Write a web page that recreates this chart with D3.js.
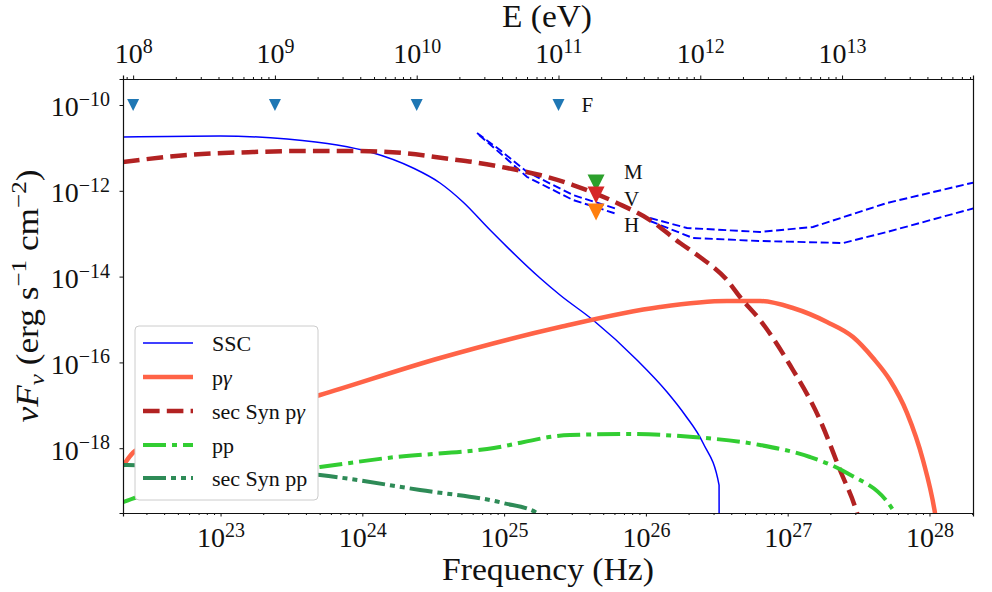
<!DOCTYPE html>
<html><head><meta charset="utf-8">
<script src="https://cdn.jsdelivr.net/npm/d3@7"></script>
<style>
body{margin:0;background:#fff}
svg{display:block}
</style>
</head><body>
<svg id="chart" width="992" height="592"></svg>
<script>
// ---------------- data (log10 ν [Hz], log10 νFν [erg s^-1 cm^-2]) ----------------
const H_EV = 4.135667e-15; // Planck constant, eV s
const xTickExps = [23, 24, 25, 26, 27, 28];
const topTickExps = [8, 9, 10, 11, 12, 13];
const yTickExps = [-10, -12, -14, -16, -18];

const sscPts = [[22.312,-10.746],[22.997,-10.723],[23.469,-10.793],[23.822,-10.932],[24.054,-11.096],
  [24.358,-11.469],[24.548,-11.818],[24.710,-12.261],[24.901,-12.914],[25.253,-14.033],[25.394,-14.429],
  [25.627,-15.012],[25.937,-15.944],[26.149,-16.690],[26.276,-17.226],[26.403,-17.879],[26.516,-18.858],
  [26.517,-20.5]];
const pgPts = [[22.312,-18.415],[22.397,-18.065],[22.855,-17.576],[23.702,-16.760],[24.548,-15.897],
  [25.394,-15.175],[26.099,-14.709],[26.572,-14.569],[26.805,-14.569],[27.037,-14.732],[27.277,-15.058],
  [27.461,-15.408],[27.602,-15.897],[27.721,-16.410],[27.842,-17.180],[27.954,-18.275],[28.039,-19.510],
  [28.07,-20.2]];
const secSynPgPts = [[22.312,-11.329],[22.764,-11.166],[23.229,-11.096],[23.582,-11.072],[23.935,-11.072],
  [24.287,-11.119],[24.619,-11.259],[24.781,-11.329],[25.021,-11.469],[25.253,-11.632],[25.486,-11.865],
  [25.796,-12.284],[26.029,-12.681],[26.241,-13.217],[26.381,-13.543],[26.572,-14.079],[26.664,-14.476],
  [26.805,-15.012],[27.016,-16.061],[27.228,-17.343],[27.369,-18.508],[27.489,-19.510],[27.53,-20.0]];
const ppPts = [[22.312,-19.254],[22.411,-19.138],[23.067,-18.695],[23.702,-18.438],[24.174,-18.228],
  [24.880,-18.019],[25.465,-17.692],[25.867,-17.669],[26.332,-17.739],[26.805,-17.925],[27.157,-18.205],
  [27.418,-18.578],[27.743,-19.441],[27.80,-19.80]];
const secSynPpPts = [[22.312,-18.392],[23.067,-18.462],[23.702,-18.625],[24.407,-18.974],[24.992,-19.277],
  [25.232,-19.510],[25.31,-19.75]];

// instrument sensitivity curves (two curves, each in two pieces)
const sens1a = [[24.809,-10.653],[24.971,-11.049],[25.162,-11.562],[25.486,-12.098],[25.796,-12.424]];
const sens2a = [[24.823,-10.699],[24.971,-11.119],[25.162,-11.678],[25.486,-12.214],[25.796,-12.541]];
const sens1b = [[26.029,-12.634],[26.290,-12.867],[26.805,-12.960],[27.178,-12.844],[27.700,-12.284],[28.32,-11.80]];
const sens2b = [[26.029,-12.704],[26.332,-13.100],[26.805,-13.170],[27.390,-13.217],[27.700,-12.960],[28.32,-12.40]];

// upper limits
const fEnergies = [1e8, 1e9, 1e10, 1e11]; // eV
const fFlux = 1e-10;
const mvhLabels = ["M", "V", "H"];
const mvhEnergy = 1.84e11; // eV
const mvhFlux = [1.52e-12, 7.98e-13, 3.2e-13];
const mvhColors = ["#2ca02c", "#d62728", "#ff7f0e"];

const seriesNames = ["SSC", "pγ", "sec Syn pγ", "pp", "sec Syn pp"];

// ---------------- chart ----------------
const FONT = "'Liberation Serif', 'Times New Roman', 'DejaVu Serif', serif";
const TXT = "#111111";
const svg = d3.select("#chart").attr("font-family", FONT).style("font-family", FONT);
const m = {l: 123, r: 973, t: 79, b: 513};
const x = d3.scaleLog().domain([Math.pow(10, 22.312), Math.pow(10, 28.307)]).range([m.l, m.r]);
const xE = d3.scaleLog().domain(x.domain().map(d => d * H_EV)).range([m.l, m.r]);
const y = d3.scaleLog().domain([Math.pow(10, -19.51), Math.pow(10, -9.394)]).range([m.b, m.t]);

svg.append("defs").append("clipPath").attr("id", "clip")
  .append("rect").attr("x", m.l).attr("y", m.t).attr("width", m.r - m.l).attr("height", m.b - m.t);

const plot = svg.append("g").attr("clip-path", "url(#clip)");
const toXY = p => [x(Math.pow(10, p[0])), y(Math.pow(10, p[1]))];
const lineSmooth = d3.line().x(p => toXY(p)[0]).y(p => toXY(p)[1]).curve(d3.curveMonotoneX);
const lineLin = d3.line().x(p => toXY(p)[0]).y(p => toXY(p)[1]);

// sensitivity curves
[sens1a, sens2a, sens1b, sens2b].forEach(s => {
  plot.append("path").attr("d", lineLin(s)).attr("fill", "none")
    .attr("stroke", "#0000ff").attr("stroke-width", 1.9).attr("stroke-dasharray", "8,3.6");
});

const styles = [
  {data: sscPts, color: "#0000ff", w: 1.5, dash: null, curve: lineSmooth},
  {data: pgPts, color: "#ff6347", w: 4.5, dash: null, curve: lineSmooth},
  {data: secSynPgPts, color: "#b22222", w: 4.5, dash: "16.6,7.2", curve: lineSmooth},
  {data: ppPts, color: "#32cd32", w: 4, dash: "23,6,5,6", curve: lineSmooth},
  {data: secSynPpPts, color: "#2e8b57", w: 4, dash: "23,5,5,5,5,5", curve: lineSmooth}
];
styles.forEach(s => {
  plot.append("path").attr("d", s.curve(s.data)).attr("fill", "none")
    .attr("stroke", s.color).attr("stroke-width", s.w)
    .attr("stroke-dasharray", s.dash);
});

function txt(parent) {
  return parent.append("text").attr("font-family", FONT).style("font-family", FONT).attr("fill", TXT);
}

// markers
const tri = sz => `M${-sz/2},${-sz/2}L${sz/2},${-sz/2}L0,${sz/2}Z`;
fEnergies.forEach(e => {
  svg.append("path").attr("d", tri(12)).attr("fill", "#1f77b4")
    .attr("transform", `translate(${xE(e)},${y(fFlux)})`);
});
txt(svg).attr("x", xE(fEnergies[3]) + 23).attr("y", y(fFlux) + 7)
  .attr("font-size", 21).text("F");
mvhFlux.forEach((f, i) => {
  svg.append("path").attr("d", tri(17)).attr("fill", mvhColors[i])
    .attr("transform", `translate(${xE(mvhEnergy)},${y(f)})`);
});
const lblOff = [-11, 4, 13];
mvhLabels.forEach((l, i) => {
  txt(svg).attr("x", xE(mvhEnergy) + 28).attr("y", y(mvhFlux[i]) + lblOff[i] + 7)
    .attr("font-size", 21).text(l);
});

// axes
function supLabel(sel, exp, sz) {
  sel.text(null);
  sel.append("tspan").text("10");
  sel.append("tspan").attr("dy", -10.5).attr("font-size", sz).text(String(exp).replace("-", "\u2212"));
}
function minorVals(scale, lo, hi) {
  const out = [];
  for (let e = lo; e <= hi; e++) for (let k = 2; k <= 9; k++) {
    const v = k * Math.pow(10, e);
    const [a, b] = scale.domain();
    if (v > a && v < b) out.push(v);
  }
  return out;
}
function styleTicks(g) {
  g.attr("font-family", FONT).style("font-family", FONT);
  g.selectAll(".tick text").attr("font-family", FONT).style("font-family", FONT)
    .attr("fill", TXT).attr("font-size", 28);
}
// bottom minor
svg.append("g").attr("transform", `translate(0,${m.b})`)
  .call(d3.axisBottom(x).tickValues(minorVals(x, 22, 28)).tickSize(2).tickFormat(""))
  .call(g => g.select(".domain").remove());
const gb = svg.append("g").attr("transform", `translate(0,${m.b})`)
  .call(d3.axisBottom(x).tickValues(xTickExps.map(e => Math.pow(10, e))).tickSize(3.5));
styleTicks(gb);
gb.selectAll(".tick text").attr("y", 34).attr("dy", null)
  .each(function(d, i) { supLabel(d3.select(this), xTickExps[i], 20); });
// top minor
svg.append("g").attr("transform", `translate(0,${m.t})`)
  .call(d3.axisTop(xE).tickValues(minorVals(xE, 7, 13)).tickSize(2).tickFormat(""))
  .call(g => g.select(".domain").remove());
const gt = svg.append("g").attr("transform", `translate(0,${m.t})`)
  .call(d3.axisTop(xE).tickValues(topTickExps.map(e => Math.pow(10, e))).tickSize(3.5));
styleTicks(gt);
gt.selectAll(".tick text").attr("y", -16).attr("dy", null)
  .each(function(d, i) { supLabel(d3.select(this), topTickExps[i], 20); });
// left
const gl = svg.append("g").attr("transform", `translate(${m.l},0)`)
  .call(d3.axisLeft(y).tickValues(yTickExps.map(e => Math.pow(10, e))).tickSize(3.5));
styleTicks(gl);
gl.selectAll(".tick text").attr("x", -13).attr("dy", "0.39em")
  .each(function(d, i) { supLabel(d3.select(this), yTickExps[i], 20); });
// right spine
svg.append("g").attr("transform", `translate(${m.r},0)`)
  .call(d3.axisRight(y).tickValues([]).tickSizeOuter(0));
svg.selectAll(".tick line").attr("stroke", "#111");
svg.selectAll(".domain").attr("stroke", "#111").attr("stroke-width", 1.2);

// axis titles
txt(svg).attr("x", (m.l + m.r) / 2).attr("y", 580).attr("text-anchor", "middle")
  .attr("font-size", 31).attr("textLength", 212).attr("lengthAdjust", "spacingAndGlyphs").text("Frequency (Hz)");
txt(svg).attr("x", 547).attr("y", 27).attr("text-anchor", "middle")
  .attr("font-size", 31).attr("textLength", 90).attr("lengthAdjust", "spacingAndGlyphs").text("E (eV)");

const yl = txt(svg).attr("transform", "translate(38,296) rotate(-90)")
  .attr("text-anchor", "middle").attr("font-size", 31).attr("textLength", 253).attr("lengthAdjust", "spacingAndGlyphs");
yl.append("tspan").attr("font-style", "italic").text("νF");
yl.append("tspan").attr("font-style", "italic").attr("font-size", 22).attr("dy", 6).text("ν");
yl.append("tspan").attr("dy", -6).text(" (erg s");
yl.append("tspan").attr("font-size", 22).attr("dy", -12).text("\u22121");
yl.append("tspan").attr("dy", 12).text(" cm");
yl.append("tspan").attr("font-size", 22).attr("dy", -12).text("\u22122");
yl.append("tspan").attr("dy", 12).text(")");

// legend
const lg = svg.append("g");
lg.append("rect").attr("x", 135).attr("y", 326).attr("width", 183).attr("height", 174)
  .attr("rx", 4).attr("fill", "#fff").attr("stroke", "#cccccc").attr("stroke-width", 1);
const legY = [343, 377, 411, 445, 478];
styles.forEach((s, i) => {
  lg.append("line").attr("x1", 143).attr("x2", 193).attr("y1", legY[i]).attr("y2", legY[i])
    .attr("stroke", s.color).attr("stroke-width", s.w).attr("stroke-dasharray", s.dash);
  const t = txt(lg).attr("x", 212).attr("y", legY[i] + 8).attr("font-size", 22);
  const name = seriesNames[i];
  if (name.endsWith("γ")) {
    t.append("tspan").text(name.slice(0, -1));
    t.append("tspan").attr("font-style", "italic").text("γ");
  } else t.text(name);
});
</script>
</body></html>
